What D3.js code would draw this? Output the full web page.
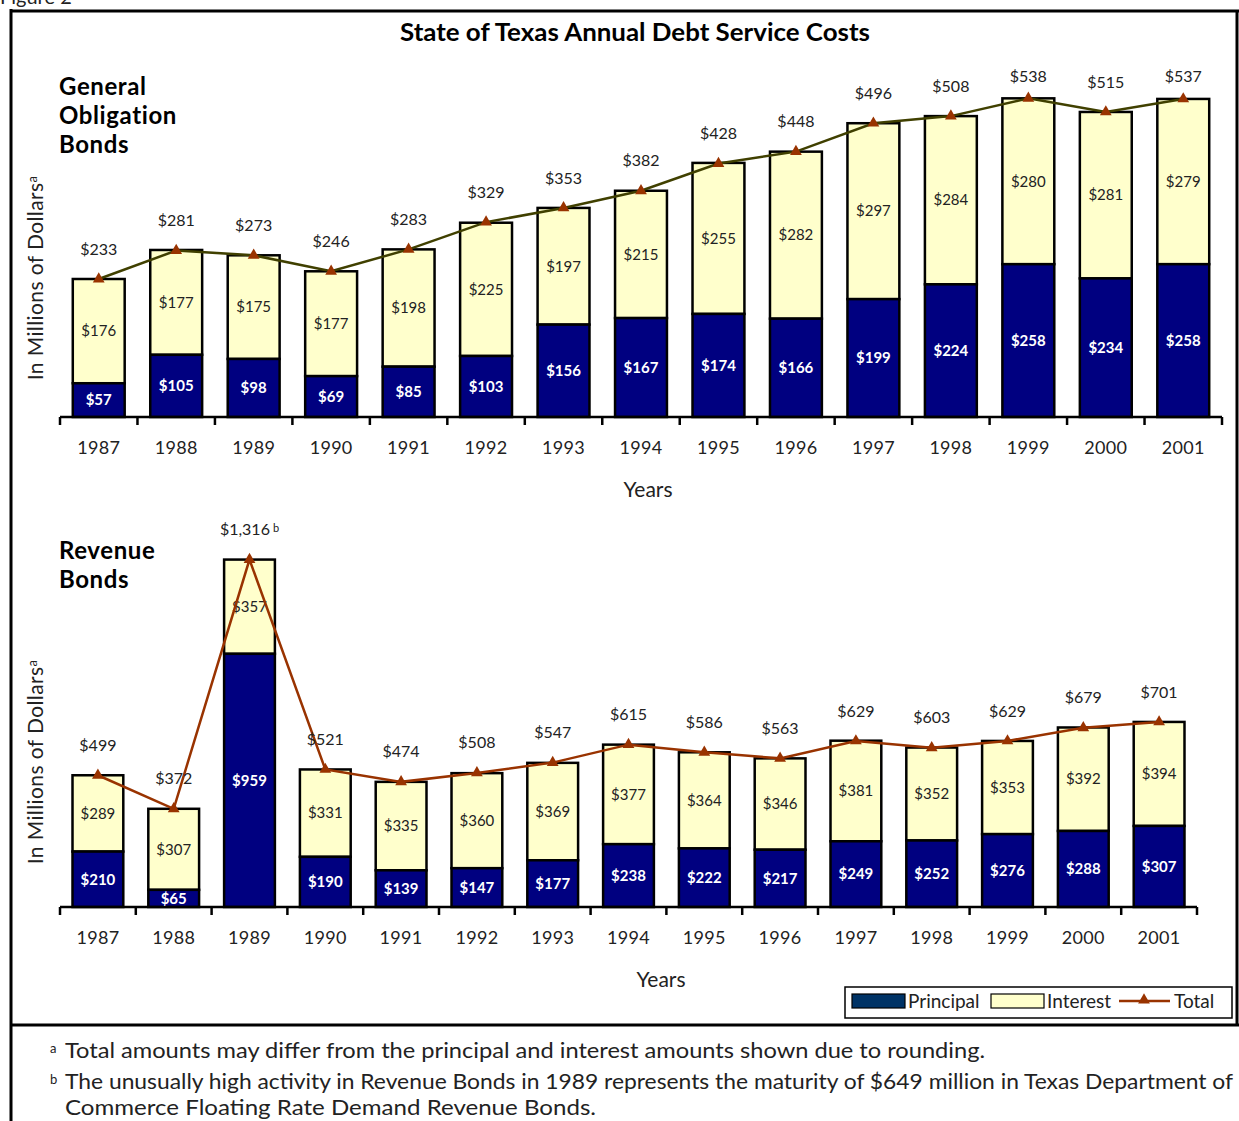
<!DOCTYPE html>
<html>
<head>
<meta charset="utf-8">
<script src="https://cdn.jsdelivr.net/npm/d3@7"></script>
<style>
  body { margin: 0; background: #fff; }
  svg text { font-family: Lato, "Open Sans", sans-serif; }
</style>
</head>
<body>
<div id="main"></div>
<script>
const years = ['1987','1988','1989','1990','1991','1992','1993','1994','1995','1996','1997','1998','1999','2000','2001'];

const goPrincipal = [57,105,98,69,85,103,156,167,174,166,199,224,258,234,258];
const goInterest = [176,177,175,177,198,225,197,215,255,282,297,284,280,281,279];
const goTotal = [233,281,273,246,283,329,353,382,428,448,496,508,538,515,537];

const revPrincipal = [210,65,959,190,139,147,177,238,222,217,249,252,276,288,307];
const revInterest = [289,307,357,331,335,360,369,377,364,346,381,352,353,392,394];
const revTotal = [499,372,1316,521,474,508,547,615,586,563,629,603,629,679,701];

const NAVY = '#000080';
const CREAM = '#ffffcc';
const MARKER = '#993300';

const width = 1239, height = 1121;

const svg = d3.select('#main').append('svg')
    .attr('width', width)
    .attr('height', height);

// frame
svg.append('text').attr('x', 0).attr('y', 4).style('font-size', '20px').attr('fill', '#222').text('Figure 2');
svg.append('line').attr('x1', 11).attr('x2', 11).attr('y1', 9).attr('y2', height).attr('stroke', '#000').attr('stroke-width', 3);
svg.append('line').attr('x1', 10).attr('x2', 1239).attr('y1', 11).attr('y2', 11).attr('stroke', '#000').attr('stroke-width', 3);
svg.append('line').attr('x1', 1237).attr('x2', 1237).attr('y1', 10).attr('y2', 1025).attr('stroke', '#000').attr('stroke-width', 3);
svg.append('line').attr('x1', 10).attr('x2', 1239).attr('y1', 1025).attr('y2', 1025).attr('stroke', '#000').attr('stroke-width', 3);

svg.append('text')
    .attr('x', 400).attr('y', 41)
    .attr('textLength', 470).attr('lengthAdjust', 'spacingAndGlyphs')
    .style('font-size', '24px').style('font-weight', 'bold')
    .text('State of Texas Annual Debt Service Costs');

function drawPanel(cfg) {
    const x = d3.scaleBand().domain(years).range([60, cfg.right]).paddingInner(0.33).paddingOuter(0.165);
    const y = d3.scaleLinear().domain([0, cfg.max]).range([cfg.base, cfg.top]);
    const g = svg.append('g');

    const rows = years.map((yr, i) => ({
        year: yr, p: cfg.principal[i], it: cfg.interest[i], t: cfg.total[i]
    }));

    // title lines
    cfg.title.forEach((t, i) => {
        g.append('text').attr('x', 59).attr('y', cfg.titleY + i * 29)
            .style('font-size', '24px').style('font-weight', 'bold')
            .style('letter-spacing', '0.6px').text(t);
    });

    // interest segment (on top)
    g.selectAll('rect.int').data(rows).enter().append('rect')
        .attr('class', 'int')
        .attr('x', d => x(d.year))
        .attr('width', x.bandwidth())
        .attr('y', d => y(d.p + d.it))
        .attr('height', d => y(d.p) - y(d.p + d.it))
        .attr('fill', CREAM).attr('stroke', '#000').attr('stroke-width', 2.5);

    g.selectAll('rect.pri').data(rows).enter().append('rect')
        .attr('class', 'pri')
        .attr('x', d => x(d.year))
        .attr('width', x.bandwidth())
        .attr('y', d => y(d.p))
        .attr('height', d => y(0) - y(d.p))
        .attr('fill', NAVY).attr('stroke', '#000').attr('stroke-width', 2.5);

    // axis
    const axis = d3.axisBottom(x).tickSize(0).tickPadding(24);
    const ax = g.append('g').attr('transform', `translate(0,${cfg.base})`).call(axis);
    ax.select('.domain').attr('stroke', '#000').attr('stroke-width', 2.5).attr('d', `M60,0H${cfg.right}`);
    ax.selectAll('.tick text').style('font-size', '18px').style('letter-spacing', '0.3px')
        .attr('fill', '#222').attr('dy', '0.71em');
    const bounds = years.map(yr => x(yr) - x.step() * x.paddingInner() / 2);
    bounds[0] = 60;
    bounds.push(cfg.right);
    ax.selectAll('line.bound').data(bounds).enter().append('line')
        .attr('class', 'bound')
        .attr('x1', d => d).attr('x2', d => d)
        .attr('y1', 0).attr('y2', 8)
        .attr('stroke', '#000').attr('stroke-width', 2.5);

    // segment labels
    g.selectAll('text.plab').data(rows).enter().append('text')
        .attr('class', 'plab')
        .attr('x', d => x(d.year) + x.bandwidth() / 2)
        .attr('y', d => (y(0) + y(d.p)) / 2)
        .attr('dy', '0.35em')
        .attr('text-anchor', 'middle')
        .attr('fill', '#fff')
        .style('font-size', '15px').style('font-weight', 'bold')
        .text(d => '$' + d.p);

    g.selectAll('text.ilab').data(rows).enter().append('text')
        .attr('class', 'ilab')
        .attr('x', d => x(d.year) + x.bandwidth() / 2)
        .attr('y', d => (y(d.p) + y(d.p + d.it)) / 2)
        .attr('dy', '0.35em')
        .attr('text-anchor', 'middle')
        .attr('fill', '#222')
        .style('font-size', '15px')
        .text(d => '$' + d.it);

    // total line
    const line = d3.line().x(d => x(d.year) + x.bandwidth() / 2).y(d => y(d.t));
    g.append('path').datum(rows).attr('d', line)
        .attr('fill', 'none').attr('stroke', cfg.lineColor).attr('stroke-width', 2.5);
    g.selectAll('path.mk').data(rows).enter().append('path')
        .attr('class', 'mk')
        .attr('d', d3.symbol().type(d3.symbolTriangle).size(60))
        .attr('transform', d => `translate(${x(d.year) + x.bandwidth() / 2},${y(d.t)})`)
        .attr('fill', MARKER);

    g.selectAll('text.tlab').data(rows).enter().append('text')
        .attr('class', 'tlab')
        .attr('x', d => x(d.year) + x.bandwidth() / 2)
        .attr('y', d => Math.max(y(d.t) - cfg.labelOff, 76))
        .attr('dy', '0.35em')
        .attr('text-anchor', 'middle')
        .attr('fill', '#222')
        .style('font-size', '16px')
        .text(d => '$' + d3.format(',')(d.t))
        .each(function (d) {
            if (d.t > 1000) {
                d3.select(this).append('tspan').attr('dx', 3).attr('dy', '-0.3em')
                    .style('font-size', '11px').text('b');
            }
        });

    // axis titles
    const yt = g.append('text')
        .attr('transform', `translate(43,${cfg.yTitleY}) rotate(-90)`)
        .attr('text-anchor', 'middle')
        .attr('fill', '#222')
        .style('font-size', '21px')
        .style('letter-spacing', '0.4px')
        .text('In Millions of Dollars');
    yt.append('tspan').attr('dy', '-0.45em').style('font-size', '13px').text('a');

    g.append('text').attr('x', cfg.xTitleX).attr('y', cfg.base + 80)
        .attr('text-anchor', 'middle').attr('fill', '#222')
        .style('font-size', '21px').text('Years');
}

drawPanel({
    title: ['General', 'Obligation', 'Bonds'], titleY: 95,
    principal: goPrincipal, interest: goInterest, total: goTotal,
    max: 600, base: 417, top: 417 - 600 * 0.5923, right: 1222,
    lineColor: '#404000', labelOff: 30, yTitleY: 278, xTitleX: 648
});

drawPanel({
    title: ['Revenue', 'Bonds'], titleY: 559,
    principal: revPrincipal, interest: revInterest, total: revTotal,
    max: 1400, base: 907, top: 907 - 1400 * 0.264, right: 1197,
    lineColor: MARKER, labelOff: 30, yTitleY: 762, xTitleX: 661
});

// legend
const lg = svg.append('g');
lg.append('rect').attr('x', 845).attr('y', 987).attr('width', 387).attr('height', 31)
    .attr('fill', '#fff').attr('stroke', '#000').attr('stroke-width', 1.5);
const legendItems = [
    { label: 'Principal', fill: '#003366', x: 852 },
    { label: 'Interest', fill: CREAM, x: 991 }
];
lg.selectAll('rect.sw').data(legendItems).enter().append('rect')
    .attr('class', 'sw')
    .attr('x', d => d.x).attr('y', 994).attr('width', 53).attr('height', 14)
    .attr('fill', d => d.fill).attr('stroke', '#000').attr('stroke-width', 1.2);
lg.selectAll('text.lt').data(legendItems).enter().append('text')
    .attr('class', 'lt')
    .attr('x', d => d.x + 56).attr('y', 1001).attr('dy', '0.35em')
    .style('font-size', '19px').attr('fill', '#222').text(d => d.label);
lg.append('line').attr('x1', 1119).attr('x2', 1170).attr('y1', 1001).attr('y2', 1001)
    .attr('stroke', MARKER).attr('stroke-width', 2.5);
lg.append('path').attr('d', d3.symbol().type(d3.symbolTriangle).size(60))
    .attr('transform', 'translate(1144,1000)').attr('fill', MARKER);
lg.append('text').attr('x', 1174).attr('y', 1001).attr('dy', '0.35em')
    .style('font-size', '19px').attr('fill', '#222').text('Total');

// footnotes
const notes = [
    { mark: 'a', lines: ['Total amounts may differ from the principal and interest amounts shown due to rounding.'], widths: [920], y: 1051 },
    { mark: 'b', lines: ['The unusually high activity in Revenue Bonds in 1989 represents the maturity of $649 million in Texas Department of', 'Commerce Floating Rate Demand Revenue Bonds.'], widths: [1168, 531], y: 1082 }
];
notes.forEach(n => {
    svg.append('text').attr('x', 50).attr('y', n.y - 3).attr('dy', '0.35em')
        .style('font-size', '13px').attr('fill', '#222').text(n.mark);
    n.lines.forEach((l, i) => {
        svg.append('text').attr('x', 65).attr('y', n.y + i * 26).attr('dy', '0.35em')
            .attr('textLength', n.widths[i]).attr('lengthAdjust', 'spacingAndGlyphs')
            .style('font-size', '21px').attr('fill', '#222').text(l);
    });
});
</script>
</body>
</html>
